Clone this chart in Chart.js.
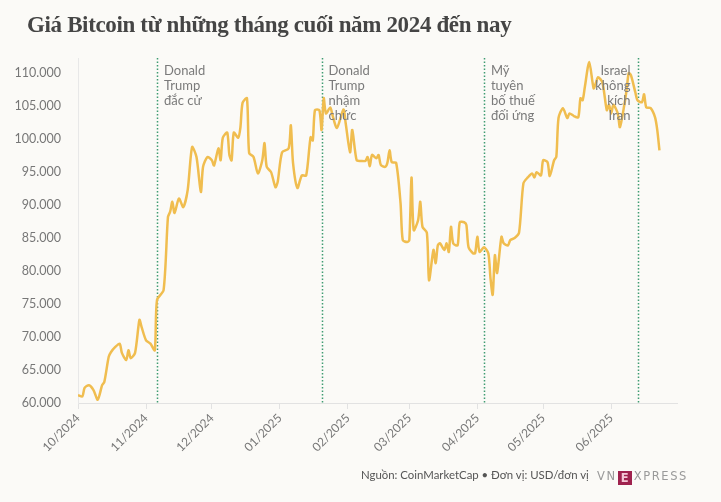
<!DOCTYPE html>
<html lang="vi">
<head>
<meta charset="utf-8">
<script src="https://cdn.jsdelivr.net/npm/chart.js@4"></script>
<style>
  html, body { margin: 0; padding: 0; background: #fbfaf7; }
  #wrap { position: relative; width: 721px; height: 502px; overflow: hidden; }
  #myChart { position: absolute; left: 0; top: 0; }
  .title { position: absolute; left: 27px; top: 12px; font-family: "Liberation Serif", serif; font-weight: 700; font-size: 23px; color: #454545; letter-spacing: -0.35px; }
  .foot { position: absolute; left: 361px; top: 468px; font-family: Lato, sans-serif; font-size: 11.4px; color: #555; }
  .logo { position: absolute; left: 597px; top: 469px; font-family: "DejaVu Sans", sans-serif; font-size: 11.5px; color: #9a9a9a; letter-spacing: 1.6px; }
  .logo b { display: inline-block; width: 14px; height: 14px; background: #9f224e; color: #f3c7d6; font-weight: 700; text-align: center; line-height: 14px; letter-spacing: 0; margin: 0 2px 0 1px; vertical-align: -2px; }
</style>
</head>
<body>
<div id="wrap">
  <canvas id="myChart" width="721" height="502"></canvas>
  <div class="title">Giá Bitcoin từ những tháng cuối năm 2024 đến nay</div>
  <div class="foot">Nguồn: CoinMarketCap • Đơn vị: USD/đơn vị</div>
  <div class="logo">VN<b>E</b>XPRESS</div>
</div>
<script>
// days counted from 01/10/2024
const days = [0, 2, 3, 5, 7, 9, 11, 12, 14, 15, 17, 19, 20, 22, 23, 24, 26, 28, 29, 31, 33, 35,
  36, 39, 41, 42, 43, 44, 46, 48, 50, 52, 54, 56, 57, 59, 61, 62, 64, 65, 66, 68, 69,
  70, 71, 73, 74, 75, 77, 78, 80, 82, 84, 85, 86, 88, 90, 91, 93, 96, 97, 98, 100, 102, 104,
  106, 107, 108, 110, 111, 112, 113, 115, 116, 118, 121, 122, 124, 125, 127, 129, 131, 132, 133, 134,
  136, 137, 138, 140, 141, 142, 143, 145, 147, 148, 150, 151, 152, 153, 155, 156, 157, 159, 160,
  162, 163, 164, 165, 167, 168, 169, 170, 171, 173, 174, 176, 177, 178, 180, 181, 182, 183, 185,
  187, 188, 189, 190, 191, 193, 194, 196, 197, 199, 201, 203, 205, 207, 208, 209, 211, 212, 214,
  215, 217, 218, 219, 221, 223, 224, 226, 228, 229, 230, 231, 233, 235, 236, 237, 239, 241, 242,
  243, 244, 246, 247, 249, 250, 251, 252, 254, 255, 257, 258, 259, 261, 263, 264, 265];
const prices = [61200, 61000, 62300, 62700, 62000, 60500, 62700, 63200, 67000, 67700, 68500, 69000, 67600, 66500, 68000, 66800, 67600, 72600, 71500, 69500, 69000, 68000,
  75600, 77100, 88200, 89000, 90500, 88800, 91000, 89700, 92300, 98800, 97300, 92000, 95800, 97300, 96800, 96000, 98600, 96800, 100200, 101000, 97600,
  96800, 101000, 100200, 101700, 105500, 106200, 97900, 97300, 94800, 96800, 99400, 95800, 95000, 92700, 93500, 98000, 98600, 102100, 96400, 92600, 94500, 94500,
  100300, 99800, 104400, 104400, 101400, 106200, 103900, 104800, 103600, 101700, 104500, 102400, 98000, 101400, 96800, 96700, 96700, 97300, 95900, 97600,
  97100, 97600, 96100, 95800, 96400, 98300, 96500, 96400, 90300, 84700, 84400, 84700, 94200, 86200, 87700, 90500, 86700, 85800, 78600,
  83200, 81200, 83900, 84200, 83200, 84200, 82900, 86700, 84200, 83900, 87400, 87400, 87000, 83600, 82700, 82700, 85200, 82900, 83600,
  82700, 78900, 76400, 82400, 79700, 85200, 84200, 83900, 84700, 85000, 85800, 93300, 94200, 94800, 94200, 95000, 94500, 96800, 96500,
  94400, 96800, 97300, 103200, 104700, 103200, 103900, 103500, 103300, 106200, 105900, 107900, 111700, 107700, 108500, 109400, 108600, 104400, 105200,
  103900, 105200, 103900, 101800, 105200, 107400, 110000, 109700, 107100, 105900, 105600, 106800, 104800, 104700, 103300, 101400, 98300];

const monthTicks = [0, 31, 61, 92, 123, 151, 182, 212, 243];
const monthLabels = ["10/2024", "11/2024", "12/2024", "01/2025", "02/2025", "03/2025", "04/2025", "05/2025", "06/2025"];
const yTicks = [60000, 65000, 70000, 75000, 80000, 85000, 90000, 95000, 100000, 105000, 110000];

const eventDays = [36, 111, 185, 255];
const eventLabels = [
  ["Donald", "Trump", "đắc cử"],
  ["Donald", "Trump", "nhậm", "chức"],
  ["Mỹ", "tuyên", "bố thuế", "đối ứng"],
  ["Israel", "không", "kích", "Iran"],
];
const eventAlign = ["left", "left", "left", "right"];

const ctx = document.getElementById("myChart").getContext("2d");

const eventLines = {
  id: "eventLines",
  beforeDatasetsDraw(chart) {
    const { ctx, chartArea, scales } = chart;
    ctx.save();
    ctx.strokeStyle = "#3f9c72";
    ctx.lineWidth = 1.5;
    ctx.setLineDash([1.5, 2]);
    eventDays.forEach((d) => {
      const x = Math.round(scales.x.getPixelForValue(d)) + 0.5;
      ctx.beginPath();
      ctx.moveTo(x, chartArea.top);
      ctx.lineTo(x, chartArea.bottom);
      ctx.stroke();
    });
    ctx.restore();
  },
  afterDatasetsDraw(chart) {
    const { ctx, chartArea, scales } = chart;
    ctx.save();
    ctx.fillStyle = "#7a7a7a";
    ctx.font = "13px Lato";
    ctx.textBaseline = "alphabetic";
    eventDays.forEach((d, i) => {
      const x = scales.x.getPixelForValue(d);
      ctx.textAlign = eventAlign[i];
      const tx = eventAlign[i] === "left" ? x + 7 : x - 7;
      eventLabels[i].forEach((line, j) => {
        ctx.fillText(line, tx, chartArea.top + 17 + j * 15);
      });
    });
    ctx.restore();
  },
};

const myChart = new Chart(ctx, {
  type: "line",
  data: {
    datasets: [
      {
        data: days.map((d, i) => ({ x: d, y: prices[i] })),
        borderColor: "#f0bd4f",
        borderWidth: 2.5,
        pointRadius: 0,
        tension: 0.25,
        fill: false,
      },
    ],
  },
  options: {
    responsive: false,
    animation: false,
    layout: { padding: { top: 58, right: 44, bottom: 40, left: 0 } },
    plugins: { legend: { display: false }, tooltip: { enabled: false } },
    scales: {
      x: {
        type: "linear",
        min: 0,
        max: 273,
        afterBuildTicks: (scale) => {
          scale.ticks = monthTicks.map((v) => ({ value: v }));
        },
        afterFit: (scale) => {
          scale.height = 59;
        },
        ticks: {
          autoSkip: false,
          minRotation: 45,
          maxRotation: 45,
          color: "#777",
          font: { family: "Lato", size: 12 },
          padding: 2,
          callback: (v, i) => monthLabels[i],
        },
        grid: { drawOnChartArea: false, color: "#e2e2e2", tickLength: 6 },
        border: { color: "#e2e2e2" },
      },
      y: {
        min: 60000,
        max: 112300,
        afterBuildTicks: (scale) => {
          scale.ticks = yTicks.map((v) => ({ value: v }));
        },
        afterFit: (scale) => {
          scale.width = 78;
        },
        ticks: {
          color: "#777",
          font: { family: "Lato", size: 12.5 },
          padding: 9,
          callback: (v) => v.toString().replace(/\B(?=(\d{3})+(?!\d))/g, "."),
        },
        grid: { display: false },
        border: { color: "#e8e8e8" },
      },
    },
  },
  plugins: [eventLines],
});
</script>
</body>
</html>
